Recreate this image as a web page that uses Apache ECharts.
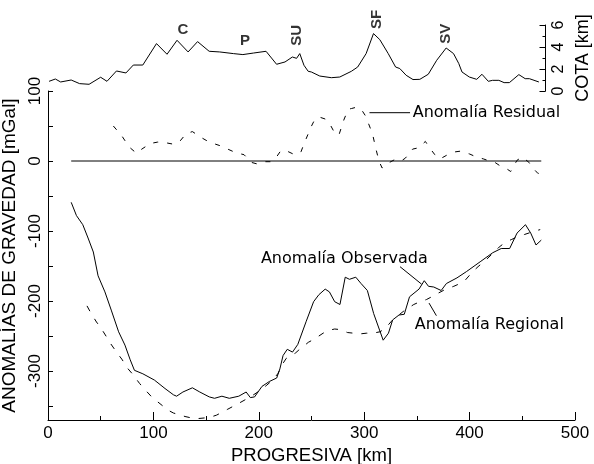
<!DOCTYPE html>
<html>
<head>
<meta charset="utf-8">
<script src="https://cdn.jsdelivr.net/npm/echarts@6/dist/echarts.min.js"></script>
<style>
  html, body { margin: 0; padding: 0; background: #fff; }
  #chart { width: 594px; height: 464px; }
</style>
</head>
<body>
<div id="chart"></div>
<script>
// Topographic profile (COTA, km) along the traverse
const elevKm = [1, 7, 12, 22, 30, 39, 50, 56, 65, 74, 81, 90, 103, 113, 122.5, 133, 142, 153, 163, 176, 185, 195, 207, 217, 225, 232, 236, 239, 243, 247, 250, 258, 269, 277, 288, 294, 302, 309, 315, 323, 330, 334, 340, 346.5, 353, 361, 369, 378, 385, 390, 393, 400, 407, 412, 418, 422, 428, 433, 438, 447, 453, 457, 466];
const elevCota = [0.88, 1.09, 0.82, 1.0, 0.67, 0.61, 1.25, 0.88, 1.82, 1.64, 2.36, 2.36, 4.31, 3.34, 4.61, 3.55, 4.49, 3.61, 3.55, 3.4, 3.31, 3.45, 3.61, 2.43, 2.64, 3.09, 2.97, 3.4, 2.34, 1.79, 1.73, 1.36, 1.21, 1.27, 1.79, 2.18, 3.4, 5.22, 4.67, 3.4, 2.18, 2.04, 1.43, 1.04, 1.06, 1.52, 2.79, 3.91, 3.4, 2.49, 1.73, 1.27, 1.06, 1.52, 0.88, 0.97, 0.97, 0.76, 0.76, 1.49, 1.12, 1.12, 0.82];

// Peak names over the profile
const peakNames = ['C', 'P', 'SU', 'SF', 'SV'];
const peakKm = [128, 187, 236, 312, 378];
const peakCota = [5.6, 4.6, 5.05, 6.5, 5.2];
const peakRotate = [0, 0, 90, 90, 90];

// Observed gravity anomaly (mGal)
const observedKm = [22, 27, 33, 38, 43, 47.5, 54, 60, 67, 73, 78, 82, 90, 101, 111, 119, 122, 128, 137, 144, 153, 158, 165, 172, 181, 188, 192, 196, 203, 210, 217, 220, 223, 227, 232, 237, 245, 252, 257, 263, 267, 272, 277, 282, 286, 292, 297, 303, 309, 318, 323, 327, 333, 338, 343, 352, 357, 361, 366, 373, 378, 388, 397, 410, 422, 430, 438, 445, 453, 458, 463, 468];
const observedMgal = [-59, -78, -91, -110, -130, -164, -187, -213, -244, -263, -284, -299, -304, -313, -325, -334, -336, -330, -324, -330, -337, -339, -336, -339, -336, -330, -338, -337, -322, -315, -310, -297, -278, -269, -273, -262, -229, -201, -191, -183, -187, -201, -205, -166, -169, -166, -175, -185, -218, -256, -246, -227, -220, -219, -194, -183, -171, -179, -180, -185, -175, -167, -158, -144, -131, -125, -125, -103, -91, -103, -120, -113];

// Regional gravity anomaly (mGal)
const regionalKm = [37, 41, 46, 50, 55, 59, 65, 70, 76, 80, 87, 91, 99, 104, 114, 119, 130, 136, 142, 149, 154, 160, 165, 170, 180, 186, 195, 200, 207, 213, 218, 223, 226, 231, 235, 238, 243, 247, 252, 257, 261, 266, 272, 278, 284, 290, 296, 302, 308, 315, 320, 327, 332, 337, 342, 347, 353, 359, 364, 370, 375, 378, 385, 391, 396, 403, 408, 415, 422, 428, 434, 440, 446, 452, 458, 462, 467];
const regionalMgal = [-207, -218, -230, -238, -250, -260, -273, -283, -297, -304, -318, -325, -338, -344, -356, -360, -365, -367, -368, -367, -366, -363, -359, -355, -347, -342, -334, -329, -321, -313, -304, -289, -282, -278, -274, -270, -264, -259, -255, -250, -246, -242, -240, -241, -245, -246, -247, -246, -246, -244, -239, -227, -221, -215, -210, -205, -201, -198, -194, -189, -185, -183, -179, -175, -170, -158, -151, -142, -132, -123, -116, -112, -108, -105, -102, -100, -98];

// Residual gravity anomaly (mGal)
const residualKm = [62, 70, 77, 84, 89, 97, 104, 112, 119, 125, 131, 137, 146, 153, 163, 169, 178, 186, 193, 198, 205, 211, 216, 221, 227, 234, 240, 243, 250, 253, 257, 263, 267, 272, 276, 279, 281, 285, 288, 293, 298, 301, 305, 308, 311, 314, 317, 320, 324, 329, 335, 339, 346, 352, 358, 362, 367, 372, 378, 386, 391, 400, 406, 413, 419, 424, 429, 436, 439, 445, 450, 457, 460, 465, 468];
const residualMgal = [50, 36, 20, 11, 17, 25, 27, 26, 24, 28, 39, 42, 33, 27, 22, 18, 12, 9, -2, -4, -1, -1, 4, 15, 14, 9, 13, 25, 50, 59, 63, 60, 54, 40, 37, 51, 60, 74, 75, 77, 72, 65, 50, 38, 18, 0, -10, -7, -2, 2, 0, 4, 17, 19, 28, 19, 9, 3, 8, 13, 14, 10, 6, 3, 0, -2, -7, -12, -15, 1, 6, -3, -10, -18, -15];

// Zero reference for the residual
const zeroKm = [22, 468];
const zeroMgal = [0, 0];

// Curve captions and their leader lines
const captionText = ['Anomalía Residual', 'Anomalía Observada', 'Anomalía Regional'];
const captionKm = [346, 202, 348];
const captionMgal = [69, -140, -234];
const leaderKm = [[305, 343.5], [334, 354.5], [361.5, 368.5]];
const leaderMgal = [[69, 69], [-151, -176], [-203, -221]];

const gravityTicks = [-350, -300, -250, -200, -150, -100, -50, 0, 50, 100];
const gravityLabels = [-300, -200, -100, 0, 100];

const zip = (xs, ys) => xs.map((x, i) => [x, ys[i]]);

const SANS = 'Liberation Sans, Arial, sans-serif';
const CAPTION_FONT = 'DejaVu Sans, Verdana, sans-serif';
const INK = '#000';

const chart = echarts.init(document.getElementById('chart'), null, { renderer: 'canvas' });

const leaderSeries = leaderKm.map((kms, i) => ({
  type: 'line',
  xAxisIndex: 0, yAxisIndex: 0,
  data: zip(kms, leaderMgal[i]),
  symbol: 'none',
  silent: true,
  animation: false,
  lineStyle: { color: INK, width: 1 }
}));

chart.setOption({
  animation: false,
  backgroundColor: '#fff',
  textStyle: { fontFamily: SANS, color: INK },
  grid: [
    { left: 48, top: 91, width: 527, height: 329, containLabel: false, outerBoundsMode: 'none' },
    { left: 48, top: 25, width: 497.5, height: 66, containLabel: false, outerBoundsMode: 'none' }
  ],
  xAxis: [
    {
      gridIndex: 0, type: 'value', min: 0, max: 500, interval: 100,
      axisLine: { show: true, onZero: false, lineStyle: { color: INK, width: 1 } },
      axisTick: { show: true, inside: true, length: 8, lineStyle: { color: INK } },
      minorTick: { show: true, splitNumber: 2, length: 4, lineStyle: { color: INK } },
      axisLabel: { fontSize: 17, color: INK, margin: 5, fontFamily: SANS },
      splitLine: { show: false },
      name: 'PROGRESIVA [km]', nameLocation: 'middle', nameGap: 24,
      nameTextStyle: { fontSize: 18.5, color: INK, fontFamily: SANS }
    },
    {
      gridIndex: 1, type: 'value', min: 0, max: 472.3,
      show: false, splitLine: { show: false }
    }
  ],
  yAxis: [
    {
      gridIndex: 0, type: 'value', min: -370, max: 100, position: 'left',
      axisLine: { show: true, onZero: false, lineStyle: { color: INK, width: 1 } },
      axisTick: { show: true, inside: true, length: 5, customValues: gravityTicks, lineStyle: { color: INK } },
      axisLabel: { rotate: 90, fontSize: 17, color: INK, margin: 4, fontFamily: SANS, customValues: gravityLabels },
      splitLine: { show: false },
      name: 'ANOMALÍAS DE GRAVEDAD [mGal]', nameLocation: 'middle', nameRotate: 90, nameGap: 20,
      nameTextStyle: { fontSize: 19, color: INK, fontFamily: SANS }
    },
    {
      gridIndex: 1, type: 'value', min: 0, max: 6, interval: 2, position: 'right',
      axisLine: { show: true, onZero: false, lineStyle: { color: INK, width: 1 } },
      axisTick: { show: true, inside: true, length: 6, lineStyle: { color: INK } },
      minorTick: { show: true, splitNumber: 2, length: 3, lineStyle: { color: INK } },
      axisLabel: { rotate: 90, fontSize: 16, color: INK, margin: 5, fontFamily: SANS },
      splitLine: { show: false },
      name: 'COTA [km]', nameLocation: 'middle', nameRotate: 90, nameGap: 23,
      nameTextStyle: { fontSize: 18, color: INK, fontFamily: SANS }
    }
  ],
  series: [
    {
      name: 'Cota', type: 'line', xAxisIndex: 1, yAxisIndex: 1,
      data: zip(elevKm, elevCota), symbol: 'none',
      lineStyle: { color: INK, width: 1 }
    },
    {
      name: 'Picos', type: 'scatter', xAxisIndex: 1, yAxisIndex: 1,
      symbolSize: 0, silent: true, clip: false,
      data: peakNames.map((n, i) => ({
        value: [peakKm[i], peakCota[i]],
        label: { formatter: n, rotate: peakRotate[i] }
      })),
      label: {
        show: true, position: 'inside', color: INK,
        fontSize: 15, fontWeight: 'bold', fontFamily: SANS
      }
    },
    {
      name: 'Anomalía Observada', type: 'line', xAxisIndex: 0, yAxisIndex: 0,
      data: zip(observedKm, observedMgal), symbol: 'none',
      lineStyle: { color: INK, width: 1 }
    },
    {
      name: 'Anomalía Regional', type: 'line', xAxisIndex: 0, yAxisIndex: 0,
      data: zip(regionalKm, regionalMgal), symbol: 'none',
      lineStyle: { color: INK, width: 1, type: [6, 9] }
    },
    {
      name: 'Anomalía Residual', type: 'line', xAxisIndex: 0, yAxisIndex: 0,
      data: zip(residualKm, residualMgal), symbol: 'none',
      lineStyle: { color: INK, width: 1, type: [5, 9] }
    },
    {
      name: 'Cero', type: 'line', xAxisIndex: 0, yAxisIndex: 0,
      data: zip(zeroKm, zeroMgal), symbol: 'none',
      lineStyle: { color: INK, width: 1 }
    },
    ...leaderSeries,
    {
      name: 'Rótulos', type: 'scatter', xAxisIndex: 0, yAxisIndex: 0,
      symbolSize: 0, silent: true,
      data: captionText.map((t, i) => ({ value: [captionKm[i], captionMgal[i]], label: { formatter: t } })),
      label: {
        show: true, position: 'right', distance: 0, color: '#000', opacity: 1,
        textBorderWidth: 0, fontSize: 16, fontFamily: CAPTION_FONT
      }
    }
  ]
});
</script>
</body>
</html>
